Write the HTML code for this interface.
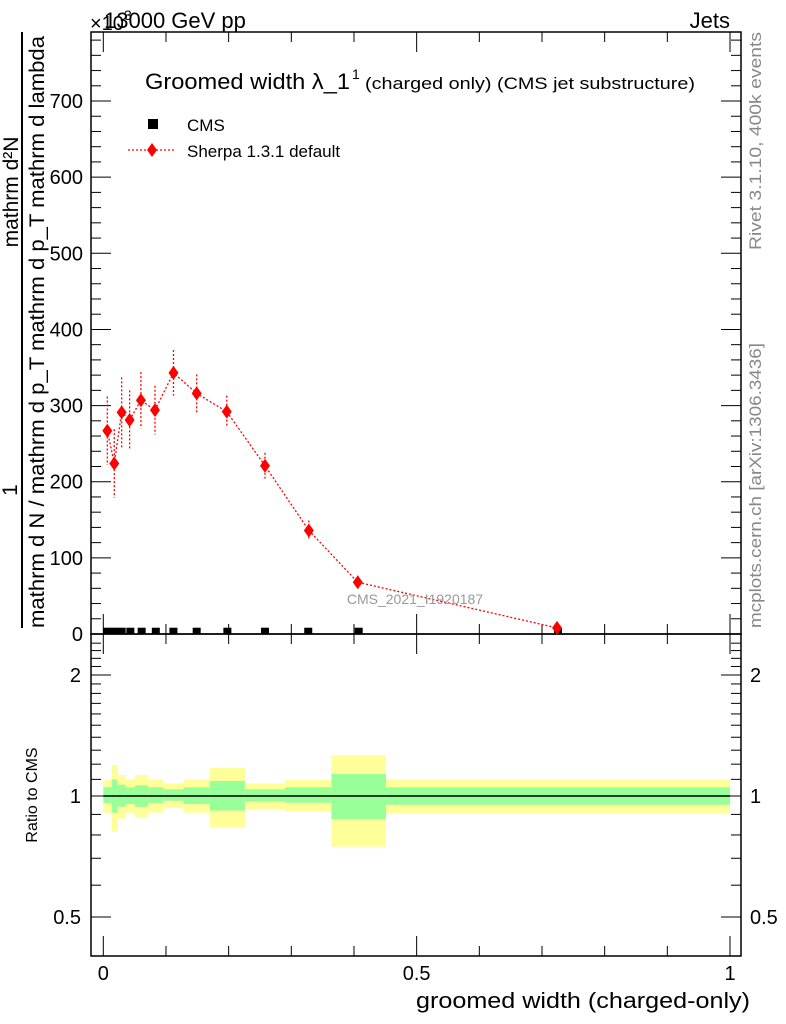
<!DOCTYPE html>
<html><head><meta charset="utf-8"><title>Groomed width</title>
<style>html,body{margin:0;padding:0;background:#fff}svg{display:block;font-family:"Liberation Sans",sans-serif}</style>
</head><body>
<svg id="chart" width="786" height="1024" viewBox="0 0 786 1024" xmlns="http://www.w3.org/2000/svg">
<g id="g"></g>
</svg>
<script>
const binEdges = [0, 0.0133, 0.0229, 0.0357, 0.0506, 0.0718, 0.0958, 0.128, 0.170, 0.226, 0.290, 0.364, 0.451, 1.0];
const sherpaX = [0.0064, 0.0175, 0.0293, 0.042, 0.060, 0.0825, 0.112, 0.149, 0.197, 0.258, 0.328, 0.406, 0.724];
const sherpaY = [267, 224, 291, 281, 307, 294, 343, 316, 292, 221, 136, 68, 8];
const sherpaErr = [45, 45, 46, 39, 37, 32, 30, 25, 21, 17, 13, 7, 5];
const cmsY = [3, 3, 3, 3, 3, 3, 3, 3, 3, 3, 3, 3, 3];
const yellowHi = [1.096, 1.195, 1.128, 1.10, 1.128, 1.10, 1.075, 1.10, 1.174, 1.075, 1.096, 1.263, 1.10];
const yellowLo = [0.909, 0.815, 0.878, 0.909, 0.883, 0.909, 0.934, 0.909, 0.836, 0.927, 0.916, 0.748, 0.906];
const greenHi = [1.051, 1.10, 1.067, 1.051, 1.063, 1.051, 1.039, 1.051, 1.09, 1.039, 1.051, 1.134, 1.051];
const greenLo = [0.961, 0.909, 0.94, 0.955, 0.94, 0.961, 0.973, 0.955, 0.92, 0.968, 0.962, 0.875, 0.951];
const mainTicks = [0, 100, 200, 300, 400, 500, 600, 700];
const ratioTicks = [0.5, 1, 2];
const xTicks = [0, 0.5, 1];
const xTickLabels = ["0", "0.5", "1"];

const NS = "http://www.w3.org/2000/svg";
const g = document.getElementById('g');
const L = 91, R = 741, T = 32, MB = 634, RB = 956;
const X = v => 103.3 + v * 626.7;
const Y = v => 634 - v * 0.7614;
const RY = v => 796 - Math.log10(v) * 402;
function el(tag, attrs, name, parent) {
  const e = document.createElementNS(NS, tag);
  for (const k in attrs) e.setAttribute(k, attrs[k]);
  
  
  (parent || g).appendChild(e);
  return e;
}
function txt(s, attrs, name) { const t = el('text', attrs, name); t.textContent = s; return t; }

for (let i = 0; i < binEdges.length - 1; i++) {
  const x0 = X(binEdges[i]), x1 = X(binEdges[i + 1]);
  el('rect', {x: x0, y: RY(yellowHi[i]), width: x1 - x0, height: RY(yellowLo[i]) - RY(yellowHi[i]), fill: '#ffff99'}, 'ratio-band-yellow');
  el('rect', {x: x0, y: RY(greenHi[i]), width: x1 - x0, height: RY(greenLo[i]) - RY(greenHi[i]), fill: '#99ff99'}, 'ratio-band-green');
}
el('line', {x1: X(0), x2: X(1), y1: RY(1), y2: RY(1), stroke: '#000', 'stroke-width': 1.5}, 'ratio-unity-line');

el('rect', {x: L, y: T, width: R - L, height: MB - T, fill: 'none', stroke: '#000', 'stroke-width': 1.5}, 'main-frame');
el('rect', {x: L, y: MB, width: R - L, height: RB - MB, fill: 'none', stroke: '#000', 'stroke-width': 1.5}, 'ratio-frame');

for (let v = 0; v <= 780; v += 20) {
  const y = Y(v); if (y < T) break;
  const len = v % 100 === 0 ? 20 : 10;
  el('line', {x1: L, x2: L + len, y1: y, y2: y, stroke: '#000'}, 'y-tick');
  el('line', {x1: R, x2: R - len, y1: y, y2: y, stroke: '#000'}, 'y-tick-right');
}
mainTicks.forEach(v => txt(String(v), {x: L - 8, y: Y(v) + 7, 'font-size': 20, 'text-anchor': 'end'}, 'y-tick-label'));
txt('×10', {x: 90, y: 30, 'font-size': 20}, 'y-exponent');
txt('3', {x: 124, y: 20, 'font-size': 14}, 'y-exponent-power');

[MB, RB].forEach((yb, k) => {
  for (let v = 0; v <= 1.0001; v += 0.1) {
    const big = Math.abs(v * 2 - Math.round(v * 2)) < 1e-6;
    const len = big ? 20 : 10;
    el('line', {x1: X(v), x2: X(v), y1: yb, y2: yb - len, stroke: '#000'}, 'x-tick');
    el('line', {x1: X(v), x2: X(v), y1: k === 0 ? T : MB, y2: (k === 0 ? T : MB) + len, stroke: '#000'}, 'x-tick-top');
  }
});
xTicks.forEach((v, i) => txt(xTickLabels[i], {x: X(v), y: 980, 'font-size': 20, 'text-anchor': 'middle'}, 'x-tick-label'));

for (let v = 0.4; v <= 2.5; v += 0.1) {
  const y = RY(v); if (y < MB || y > RB) continue;
  const major = [0.5, 1, 2].some(m => Math.abs(m - v) < 1e-6);
  el('line', {x1: L, x2: L + (major ? 20 : 10), y1: y, y2: y, stroke: '#000'}, 'ratio-y-tick');
  el('line', {x1: R, x2: R - (major ? 20 : 10), y1: y, y2: y, stroke: '#000'}, 'ratio-y-tick-right');
}
ratioTicks.forEach(v => {
  txt(String(v), {x: L - 10, y: RY(v) + 7, 'font-size': 20, 'text-anchor': 'end'}, 'ratio-tick-label');
  txt(String(v), {x: 750, y: RY(v) + 7, 'font-size': 20}, 'ratio-tick-label-right');
});

for (let i = 0; i < binEdges.length - 1; i++) {
  const cx = (X(binEdges[i]) + X(binEdges[i + 1])) / 2;
  el('rect', {x: cx - 4, y: Y(cmsY[i]) - 4, width: 8, height: 6, fill: '#000'}, 'cms-point');
}

el('polyline', {points: sherpaX.map((x, i) => X(x) + ',' + Y(sherpaY[i])).join(' '), fill: 'none', stroke: '#f00', 'stroke-width': 1.3, 'stroke-dasharray': '2,2'}, 'sherpa-line');
sherpaX.forEach((x, i) => {
  const cx = X(x), cy = Y(sherpaY[i]);
  el('line', {x1: cx, x2: cx, y1: Y(sherpaY[i] + sherpaErr[i]), y2: Y(sherpaY[i] - sherpaErr[i]), stroke: '#f00', 'stroke-width': 1.3, 'stroke-dasharray': '2,2'}, 'sherpa-errorbar');
  el('polygon', {points: `${cx},${cy - 7} ${cx + 5},${cy} ${cx},${cy + 7} ${cx - 5},${cy}`, fill: '#f00'}, 'sherpa-point');
});

txt('13000 GeV pp', {x: 104, y: 28, 'font-size': 22}, 'energy-label');
txt('Jets', {x: 730, y: 28, 'font-size': 22, 'text-anchor': 'end'}, 'process-label');
txt('Groomed width λ_1', {x: 145, y: 89, 'font-size': 22, textLength: 205, lengthAdjust: 'spacingAndGlyphs'}, 'plot-title');
txt('1', {x: 352, y: 79, 'font-size': 14}, 'plot-title-superscript');
txt('(charged only) (CMS jet substructure)', {x: 365, y: 89, 'font-size': 17, textLength: 330, lengthAdjust: 'spacingAndGlyphs'}, 'plot-title-subtitle');
el('rect', {x: 148, y: 119, width: 10, height: 10, fill: '#000'}, 'legend-cms-marker');
txt('CMS', {x: 187, y: 131, 'font-size': 17}, 'legend-cms-label');
el('line', {x1: 128, x2: 176, y1: 150, y2: 150, stroke: '#f00', 'stroke-width': 1.3, 'stroke-dasharray': '2,2'}, 'legend-sherpa-line');
el('polygon', {points: '152,143 157,150 152,157 147,150', fill: '#f00'}, 'legend-sherpa-marker');
txt('Sherpa 1.3.1 default', {x: 187, y: 157, 'font-size': 17}, 'legend-sherpa-label');
txt('CMS_2021_I1920187', {x: 415, y: 604, 'font-size': 14, fill: '#999', 'text-anchor': 'middle'}, 'analysis-watermark');
txt('groomed width (charged-only)', {x: 416, y: 1008, 'font-size': 22, textLength: 334, lengthAdjust: 'spacingAndGlyphs'}, 'x-axis-title');
txt('Ratio to CMS', {x: 0, y: 0, 'font-size': 16, 'text-anchor': 'middle', transform: 'translate(37,795) rotate(-90)'}, 'ratio-axis-title');
txt('Rivet 3.1.10,  400k events', {x: 0, y: 0, 'font-size': 17, fill: '#888', textLength: 218, lengthAdjust: 'spacingAndGlyphs', transform: 'translate(761,250) rotate(-90)'}, 'rivet-label');
txt('mcplots.cern.ch [arXiv:1306.3436]', {x: 0, y: 0, 'font-size': 17, fill: '#888', textLength: 285, lengthAdjust: 'spacingAndGlyphs', transform: 'translate(761,628) rotate(-90)'}, 'mcplots-label');
el('line', {x1: 22, x2: 22, y1: 32, y2: 628, stroke: '#000', 'stroke-width': 2}, 'y-title-fraction-bar');
txt('1', {x: 0, y: 0, 'font-size': 21, 'text-anchor': 'middle', transform: 'translate(17,490) rotate(-90)'}, 'y-title-one');
txt('mathrm d²N', {x: 0, y: 0, 'font-size': 21, 'text-anchor': 'middle', transform: 'translate(18,192) rotate(-90)'}, 'y-title-numerator');
txt('mathrm d N / mathrm d p_T mathrm d p_T mathrm d lambda', {x: 0, y: 0, 'font-size': 21, 'textLength': 592, 'lengthAdjust': 'spacingAndGlyphs', transform: 'translate(44,628) rotate(-90)'}, 'y-title-denominator');
</script>
</body></html>
